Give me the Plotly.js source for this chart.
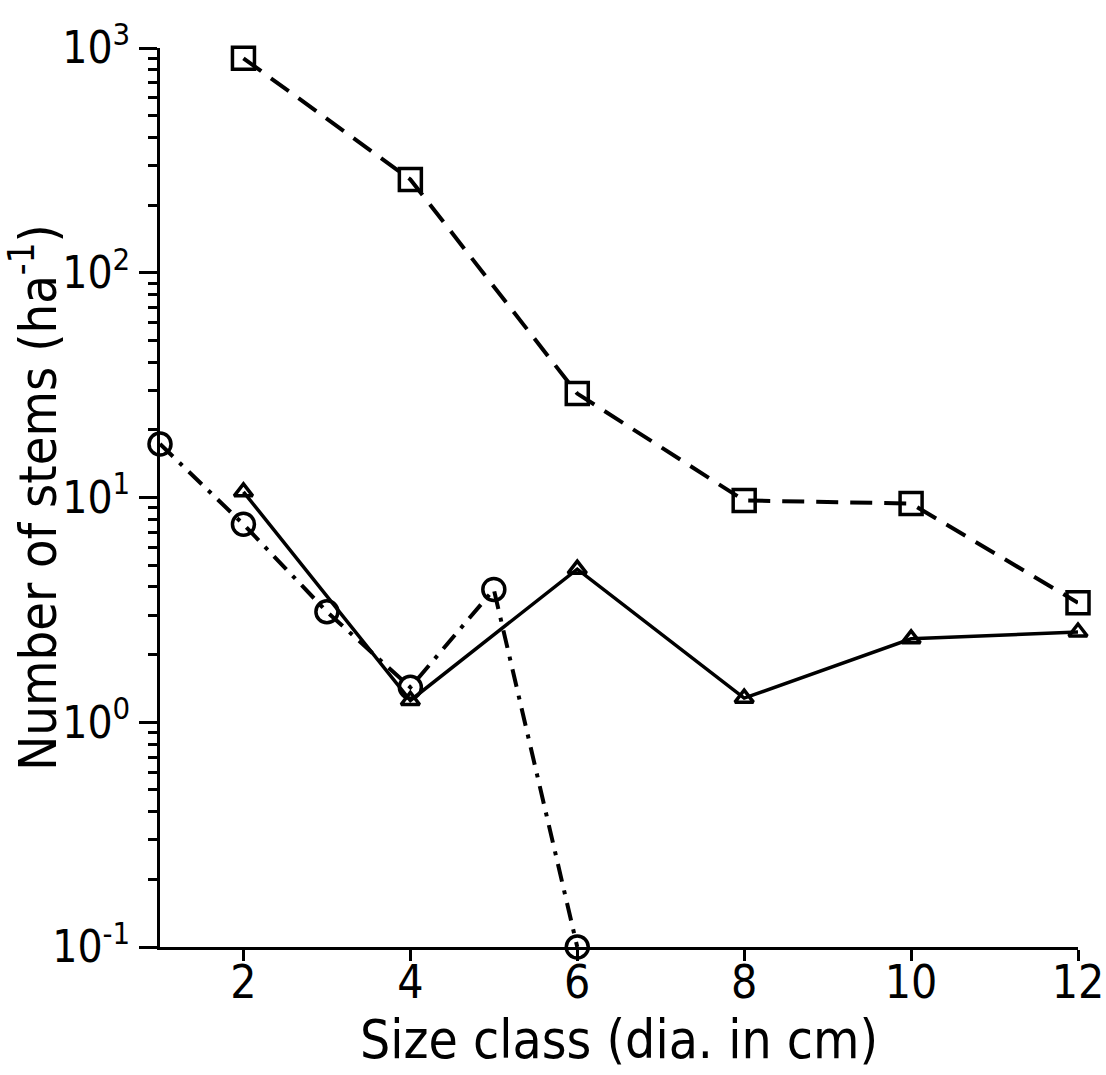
<!DOCTYPE html>
<html>
<head>
<meta charset="utf-8">
<script src="https://cdn.plot.ly/plotly-3.0.1.min.js"></script>
<style>
html,body{margin:0;padding:0;background:#fff;}
#chart{width:1106px;height:1075px;}
#chart text{font-stretch:condensed;}
</style>
</head>
<body>
<div id="chart"></div>
<script>
// Data
const squareX = [2, 4, 6, 8, 10, 12];
const squareY = [900, 260, 29, 9.7, 9.4, 3.4];

const triangleX = [2, 4, 6, 8, 10, 12];
const triangleY = [10.6, 1.25, 4.8, 1.28, 2.35, 2.52];

const circleX = [1, 2, 3, 4, 5, 6];
const circleY = [17.3, 7.6, 3.1, 1.43, 3.9, 0.1];

const xTickVals = [2, 4, 6, 8, 10, 12];
const xTickText = ['2', '4', '6', '8', '10', '12'];
const yTickVals = [0.1, 1, 10, 100, 1000];
const yTickText = ['10<sup>-1</sup>', '10<sup>0</sup>', '10<sup>1</sup>', '10<sup>2</sup>', '10<sup>3</sup>'];

const minorVals = [];
[0.1, 1, 10, 100].forEach(d => { for (let k = 2; k <= 9; k++) minorVals.push(d * k); });

const FONT = '"DejaVu Sans", sans-serif';

const traces = [
  {
    x: squareX, y: squareY, type: 'scatter', mode: 'lines+markers',
    line: {color: '#000', width: 4, dash: '22px,12px'},
    marker: {symbol: 'square-open', size: 22, color: '#000', line: {width: 3.5, color: '#000'}},
    cliponaxis: false
  },
  {
    x: triangleX, y: triangleY, type: 'scatter', mode: 'lines+markers',
    line: {color: '#000', width: 3.5},
    marker: {symbol: 'triangle-up-open', size: 16, color: '#000', line: {width: 3.5, color: '#000'}},
    cliponaxis: false
  },
  {
    x: circleX, y: circleY, type: 'scatter', mode: 'lines+markers',
    line: {color: '#000', width: 4, dash: '18px,9px,4px,9px'},
    marker: {symbol: 'circle-open', size: 22, color: '#000', line: {width: 3.5, color: '#000'}},
    cliponaxis: false
  }
];

const layout = {
  width: 1106, height: 1075,
  margin: {l: 160, r: 28, t: 48, b: 128},
  paper_bgcolor: '#fff', plot_bgcolor: '#fff',
  showlegend: false,
  font: {family: FONT, color: '#000'},
  xaxis: {
    range: [1, 12],
    tickmode: 'array', tickvals: xTickVals, ticktext: xTickText,
    ticks: 'outside', ticklen: 11, tickwidth: 3, tickcolor: '#000',
    showline: true, linewidth: 3, linecolor: '#000',
    showgrid: false, zeroline: false,
    tickfont: {size: 46, family: FONT},
    ticklabelstandoff: -18,
    ticklabeloverflow: 'allow',
    title: {text: 'Size class (dia. in cm)', font: {size: 53, family: FONT}, standoff: 0}
  },
  yaxis: {
    type: 'log', range: [-1, 3],
    tickmode: 'array', tickvals: yTickVals, ticktext: yTickText,
    ticks: 'outside', ticklen: 18, tickwidth: 3, tickcolor: '#000',
    showline: true, linewidth: 3, linecolor: '#000',
    showgrid: false, zeroline: false,
    tickfont: {size: 44, family: FONT},
    ticklabeloverflow: 'allow',
    minor: {tickmode: 'array', tickvals: minorVals, ticks: 'outside', ticklen: 9, tickwidth: 3, tickcolor: '#000', showgrid: false},
    title: {text: 'Number of stems (ha<sup>-1</sup>)', font: {size: 52, family: FONT}, standoff: 6}
  }
};

Plotly.newPlot('chart', traces, layout, {displayModeBar: false, staticPlot: true});
</script>
</body>
</html>
